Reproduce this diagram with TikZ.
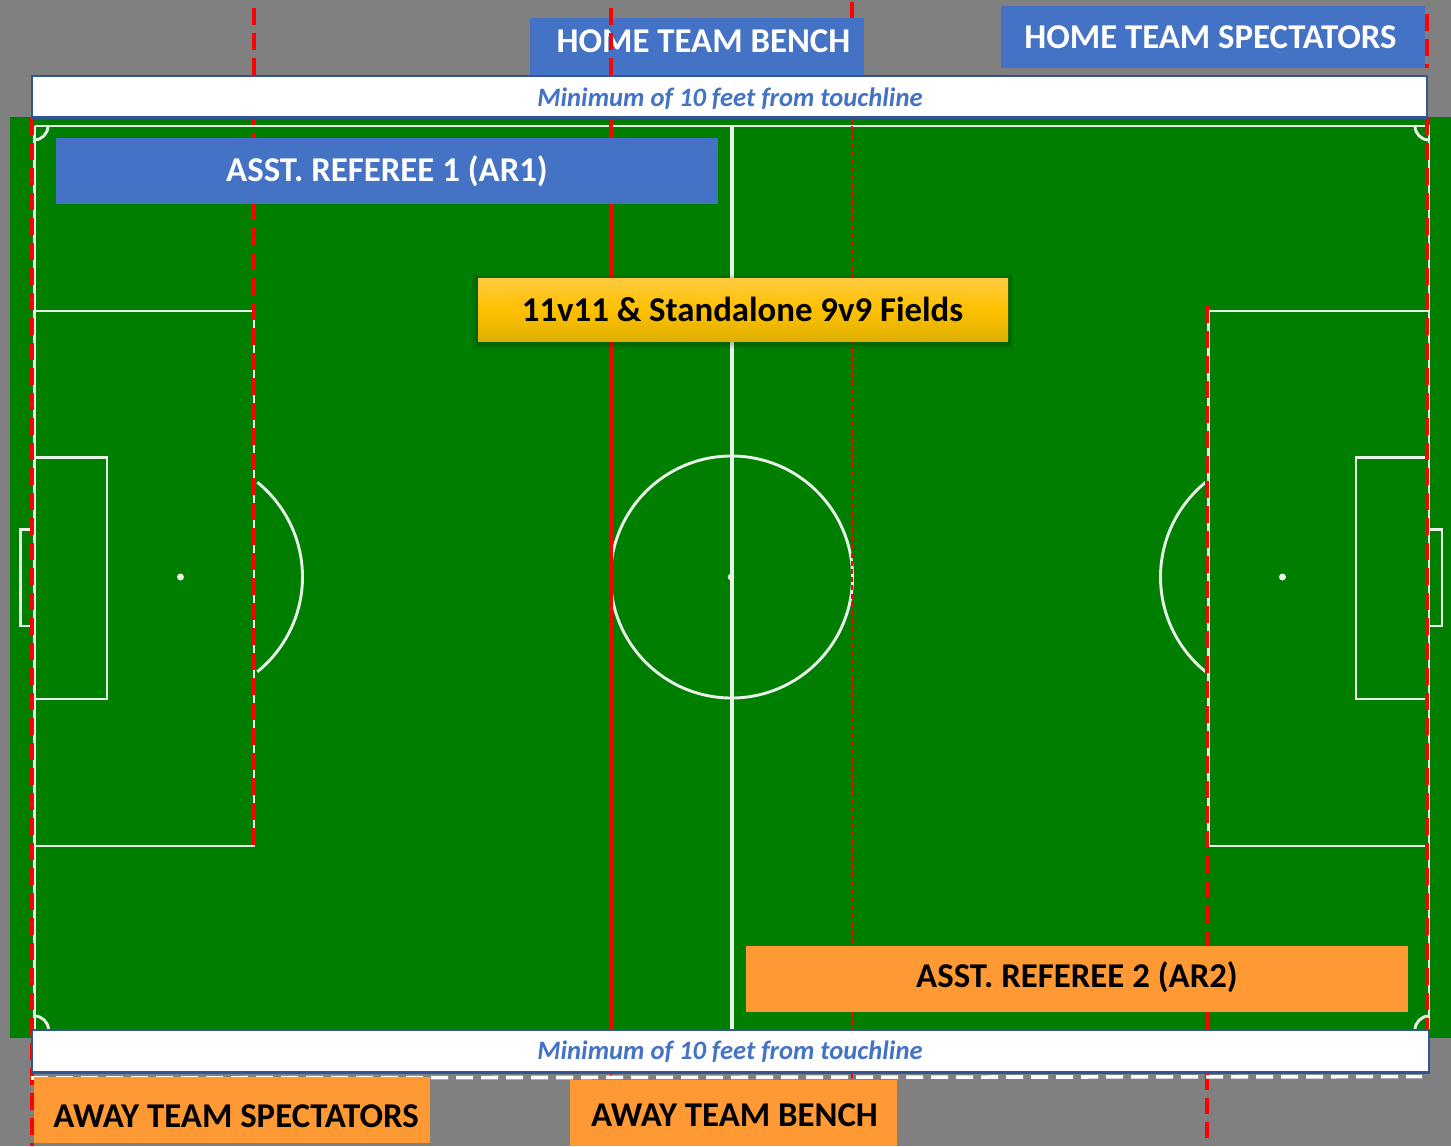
\documentclass[tikz,border=0pt]{standalone}
\usepackage{fontspec}
\setmainfont{Carlito}
\definecolor{bgGray}{HTML}{808080}
\definecolor{pitch}{HTML}{007E00}
\definecolor{blueBox}{HTML}{4472C4}
\definecolor{blueEdge}{HTML}{2F5597}
\definecolor{orangeBox}{HTML}{FF9933}
\definecolor{lineWhite}{HTML}{E8F2E8}
\definecolor{goldTop}{HTML}{FFCB40}
\definecolor{goldMid}{HTML}{FFC000}
\definecolor{goldBot}{HTML}{DEB000}
\tikzset{
  pitchline/.style={draw=lineWhite,line width=2.9pt},
  reddash/.style={draw=red,line width=4.3pt,dash pattern=on 17pt off 8pt},
  redthin/.style={draw=red,line width=1.7pt,dash pattern=on 5pt off 3.2pt},
  bluefill/.style={fill=blueBox},
  orangefill/.style={fill=orangeBox},
  gapbox/.style={draw=blueEdge,fill=white,line width=2.2pt},
  gapnote/.style={font=\fontsize{26.6}{30}\selectfont\bfseries\itshape,text=blueBox,inner sep=0pt},
  whitelabel/.style={font=\fontsize{34.8}{38}\selectfont\bfseries,text=white,inner sep=0pt},
  blacklabel/.style={font=\fontsize{34.8}{38}\selectfont\bfseries,text=black,inner sep=0pt},
}
\begin{document}
\begin{tikzpicture}[x=1pt,y=-1pt]
\useasboundingbox (0,0) rectangle (1451,1146);
\fill[bgGray] (0,0) rectangle (1451,1146);
\fill[pitch] (10,117) rectangle (1451,1038);

% pitch markings
\draw[pitchline] (34.5,126) -- (1429,126) -- (1429,1030) (34.5,126) -- (34.5,1030);
\draw[pitchline,line width=3.6pt] (732,126) -- (732,1030);
\draw[pitchline] (731.5,577) circle[radius=121];
\fill[lineWhite] (731,577) circle[radius=3.3];
% left end
\draw[pitchline] (34,311) -- (254,311) -- (254,846) -- (34,846);
\draw[pitchline] (34,457.5) -- (107,457.5) -- (107,699) -- (34,699);
\draw[pitchline] (33,529.5) -- (20.5,529.5) -- (20.5,626) -- (33,626);
\fill[lineWhite] (180.5,577) circle[radius=3.5];
\draw[pitchline] (180.5,577) ++(-51:122) arc[start angle=-51,end angle=51,radius=122];
% right end
\draw[pitchline] (1429,311) -- (1208.5,311) -- (1208.5,846) -- (1429,846);
\draw[pitchline] (1429,457.5) -- (1356,457.5) -- (1356,699) -- (1429,699);
\draw[pitchline] (1430,529.5) -- (1442,529.5) -- (1442,626) -- (1430,626);
\fill[lineWhite] (1282.5,577) circle[radius=3.5];
\draw[pitchline] (1282.5,577) ++(129:122) arc[start angle=129,end angle=231,radius=122];
% corner arcs
\draw[pitchline] (48,126) arc[start angle=0,end angle=90,radius=14];
\draw[pitchline] (1415,126) arc[start angle=180,end angle=90,radius=14];
\draw[pitchline] (34.5,1016) arc[start angle=-90,end angle=0,radius=14];
\draw[pitchline] (1429,1016) arc[start angle=270,end angle=180,radius=14];

% top labels that the red lines cross or pass behind
\fill[bluefill] (530,18) rectangle (864,75);
\fill[bluefill] (1001,6) rectangle (1425,68);
\node[whitelabel] (homebench) at (703.5,41.5) {HOME TEAM BENCH};
\node[whitelabel] (homespec) at (1210.5,37.5) {HOME TEAM SPECTATORS};

% red field-limit lines
\draw[reddash] (32,118) -- (32,1146);
\draw[reddash] (254,8) -- (254,140);
\draw[reddash] (254,203) -- (254,846);
\draw[reddash] (611,8) -- (611,75);
\draw[draw=red,line width=4.3pt] (611,118) -- (611,1029);
\draw[draw=red,line width=1.5pt] (611,1073) -- (611,1077);
\draw[draw=red,line width=4pt] (852,2) -- (852,18);
\draw[redthin] (852,118) -- (852,1029);
\draw[redthin] (852,1073) -- (852,1080);
\draw[reddash] (1207,306) -- (1207,950);
\draw[draw=red,line width=4.3pt] (1207,1012) -- (1207,1029);
\draw[reddash,dash pattern=on 16pt off 8pt] (1207,1074) -- (1207,1139);
\draw[reddash] (1427,14) -- (1427,68);
\draw[reddash] (1427,118) -- (1427,1030);

% white dashed line along the lower gap
\draw[draw=white,line width=3.6pt,dash pattern=on 17pt off 8pt] (31,1078) -- (1422,1076.6);

% gap boxes
\draw[gapbox] (32,76) rectangle (1427,117.5);
\node[gapnote] (topgap) at (730,98.5) {Minimum of 10 feet from touchline};
\draw[gapbox] (32,1030) rectangle (1429,1072.5);
\node[gapnote] (botgap) at (730,1051.5) {Minimum of 10 feet from touchline};

% referee and title labels
\fill[bluefill] (56,138) rectangle (718,204);
\node[whitelabel] (ar1) at (387,171.5) {ASST. REFEREE 1 (AR1)};
\foreach \g/\o in {6/.05,4/.07,2/.1}{
  \fill[black,opacity=\o] (478-\g,278+2-\g) rectangle (1008+\g,341+2+\g);
}
\path[top color=goldTop,bottom color=goldBot,middle color=goldMid,shading angle=0] (478,278) rectangle (1008,341);
\node[blacklabel] (title) at (742.5,309) {11v11 \& Standalone 9v9 Fields};
\fill[orangefill] (746,946) rectangle (1408,1012);
\node[blacklabel] (ar2) at (1077,977.5) {ASST. REFEREE 2 (AR2)};
\fill[orangefill] (34,1077) rectangle (430,1143);
\node[blacklabel] (awayspec) at (236,1116.5) {AWAY TEAM SPECTATORS};
\fill[orangefill] (570,1080) rectangle (897,1146);
\node[blacklabel] (awaybench) at (734.5,1115.5) {AWAY TEAM BENCH};
\end{tikzpicture}
\end{document}
